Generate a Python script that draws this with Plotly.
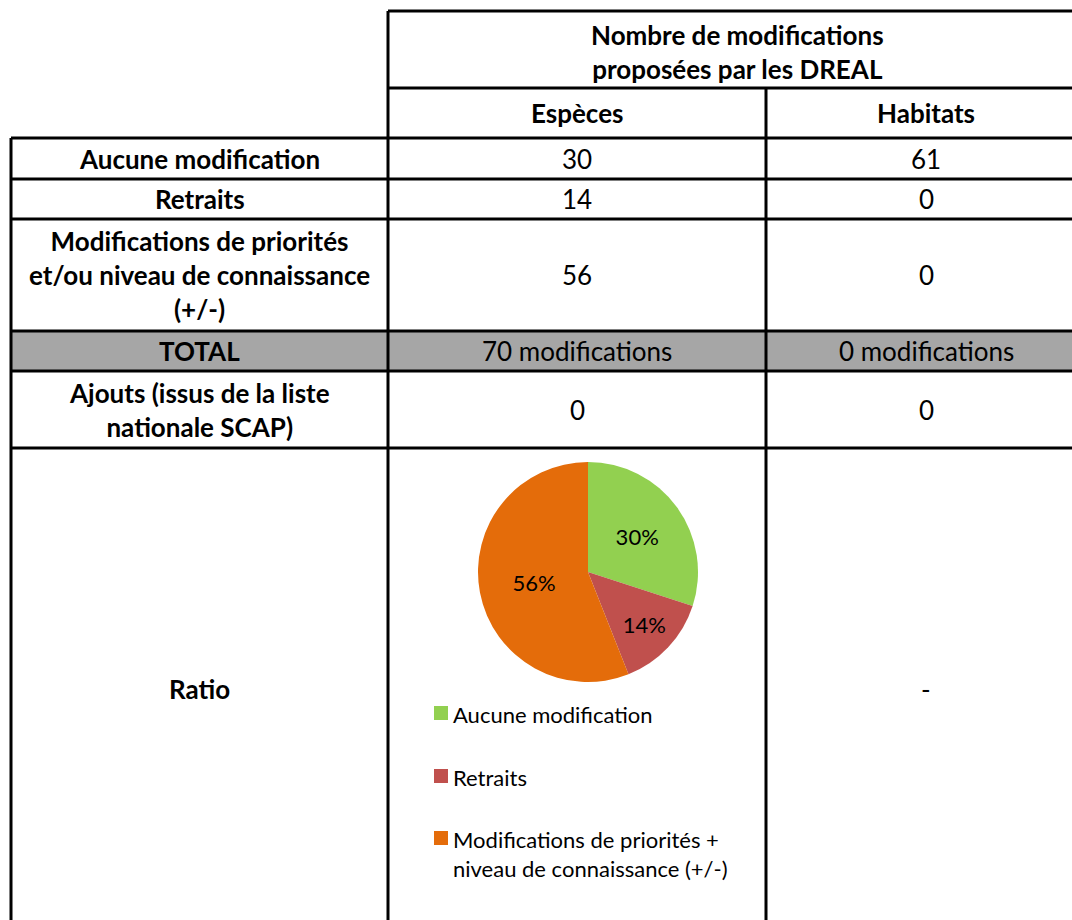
import plotly.graph_objects as go

# ---------------- data ----------------
header_title = ["Nombre de modifications", "proposées par les DREAL"]
col_labels = ["Espèces", "Habitats"]
row_labels = [
    ["Aucune modification"],
    ["Retraits"],
    ["Modifications de priorités", "et/ou niveau de connaissance", "(+/-)"],
    ["TOTAL"],
    ["Ajouts (issus de la liste", "nationale SCAP)"],
    ["Ratio"],
]
especes_vals = ["30", "14", "56", "70 modifications", "0"]
habitats_vals = ["61", "0", "0", "0 modifications", "0", "-"]

pie_labels = ["Aucune modification", "Retraits",
              "Modifications de priorités +<br>niveau de connaissance (+/-)"]
pie_values = [30, 14, 56]
pie_colors = ["#92D050", "#C0504D", "#E46C0A"]

# ---------------- layout geometry ----------------
W, H = 1072, 920
x_left, x_lab, x_mid, x_right = 11, 388, 766, 1086
y_top, y_hdr, y_rows = 11, 88, [138, 179, 219, 331, 371, 448, 960]
FONT = "Lato"
LW = 3

fig = go.Figure()

shapes = []
shapes.append(dict(type="rect", xref="x", yref="y", x0=x_left, x1=x_right,
                   y0=y_rows[3], y1=y_rows[4], fillcolor="#A6A6A6",
                   line=dict(width=0), layer="below"))
for y in [y_top, y_hdr]:
    shapes.append(dict(type="line", xref="x", yref="y", x0=x_lab, x1=x_right,
                       y0=y, y1=y, line=dict(color="black", width=LW)))
for y in y_rows[:-1]:
    shapes.append(dict(type="line", xref="x", yref="y", x0=x_left, x1=x_right,
                       y0=y, y1=y, line=dict(color="black", width=LW)))
shapes.append(dict(type="line", xref="x", yref="y", x0=x_left, x1=x_left,
                   y0=y_rows[0], y1=H + 10, line=dict(color="black", width=LW)))
shapes.append(dict(type="line", xref="x", yref="y", x0=x_lab, x1=x_lab,
                   y0=y_top, y1=H + 10, line=dict(color="black", width=LW)))
shapes.append(dict(type="line", xref="x", yref="y", x0=x_mid, x1=x_mid,
                   y0=y_hdr, y1=H + 10, line=dict(color="black", width=LW)))

ann = []
FS = 26
ann.append(dict(x=(x_lab + x_right) / 2, y=(y_top + y_hdr) / 2 + 2,
                text="<b>" + "<br>".join(header_title) + "</b>",
                font=dict(size=FS, color="black", family=FONT)))
ann.append(dict(x=(x_lab + x_mid) / 2, y=(y_hdr + y_rows[0]) / 2,
                text="<b>" + col_labels[0] + "</b>",
                font=dict(size=FS, color="black", family=FONT)))
ann.append(dict(x=(x_mid + x_right) / 2, y=(y_hdr + y_rows[0]) / 2,
                text="<b>" + col_labels[1] + "</b>",
                font=dict(size=FS, color="black", family=FONT)))

ratio_center = 689
for i, lab in enumerate(row_labels):
    yc = (y_rows[i] + y_rows[i + 1]) / 2 if i < 5 else ratio_center
    ann.append(dict(x=(x_left + x_lab) / 2, y=yc,
                    text="<b>" + "<br>".join(lab) + "</b>",
                    font=dict(size=FS, color="black", family=FONT)))
    if i < len(especes_vals):
        ann.append(dict(x=(x_lab + x_mid) / 2, y=yc, text=especes_vals[i],
                        font=dict(size=FS, color="black", family=FONT)))
    ann.append(dict(x=(x_mid + x_right) / 2, y=yc, text=habitats_vals[i],
                    font=dict(size=FS, color="black", family=FONT)))

for a in ann:
    a.update(xref="x", yref="y", showarrow=False, xanchor="center",
             yanchor="middle", align="center")

leg_x = 434
leg_y = [713, 776, 838]
for i, (lab, col) in enumerate(zip(pie_labels, pie_colors)):
    shapes.append(dict(type="rect", xref="x", yref="y", x0=leg_x, x1=leg_x + 14,
                       y0=leg_y[i] - 7, y1=leg_y[i] + 7, fillcolor=col,
                       line=dict(width=0)))
    ann.append(dict(xref="x", yref="y", x=leg_x + 17, y=leg_y[i] - 14,
                    text=lab, showarrow=False, xanchor="left", yanchor="top",
                    align="left", font=dict(size=22, color="black", family=FONT)))

cx, cy, r = 588, 572, 110
fig.add_trace(go.Pie(
    values=pie_values, labels=pie_labels,
    marker=dict(colors=pie_colors, line=dict(width=0)),
    sort=False, direction="clockwise", rotation=0,
    textinfo="percent", textposition="inside", insidetextorientation="horizontal",
    textfont=dict(size=22, color="black", family=FONT),
    domain=dict(x=[(cx - r) / W, (cx + r) / W],
                y=[(H - cy - r) / H, (H - cy + r) / H]),
    showlegend=False, hoverinfo="label+value+percent",
))

fig.update_layout(
    width=W, height=H, margin=dict(l=0, r=0, t=0, b=0),
    paper_bgcolor="white", plot_bgcolor="white",
    xaxis=dict(range=[0, W], visible=False, fixedrange=True, domain=[0, 1]),
    yaxis=dict(range=[H, 0], visible=False, fixedrange=True, domain=[0, 1]),
    shapes=shapes, annotations=ann, showlegend=False,
    font=dict(family=FONT),
)

fig.write_html("out.html",
               config={"displayModeBar": False},
               post_script="document.body.style.margin='0';"
                           "document.body.style.overflow='hidden';")
